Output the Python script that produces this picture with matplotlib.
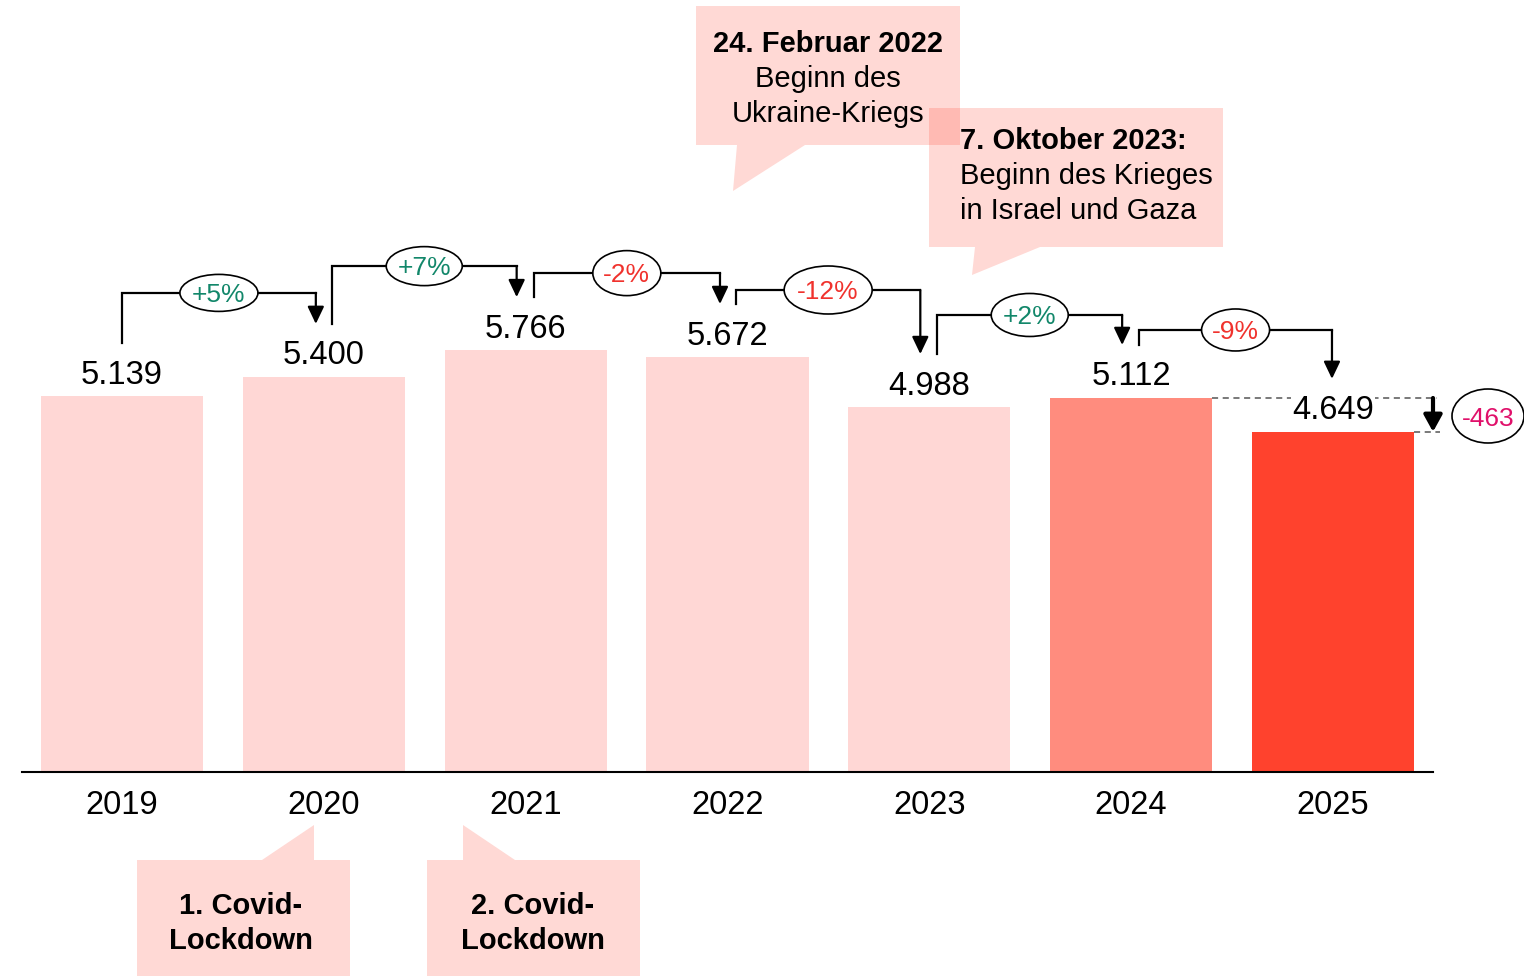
import numpy as np
import matplotlib.pyplot as plt
from matplotlib.patches import Ellipse, Polygon

plt.rcParams['font.family'] = ['Liberation Sans', 'DejaVu Sans']

years = ['2019', '2020', '2021', '2022', '2023', '2024', '2025']
values = [5139, 5400, 5766, 5672, 4988, 5112, 4649]
value_labels = ['5.139', '5.400', '5.766', '5.672', '4.988', '5.112', '4.649']
pct_labels = ['+5%', '+7%', '-2%', '-12%', '+2%', '-9%']
diff_label = '-463'

bar_colors = ['#FFD7D5'] * 5 + ['#FF8C7E', '#FF422D']
green = '#12876A'
red = '#F0322D'
magenta = '#E0106A'
callout = '#FF422D'

W, H = 1524, 976
fig = plt.figure(figsize=(W / 100, H / 100), dpi=100)
ax = fig.add_axes([0, 0, 1, 1])
ax.axis('off')

# pixel geometry -> data
x0, dx = 122, 201.83
base, k = 772, 376 / 5139
ax.set_xlim(-x0 / dx, (W - x0) / dx)
ax.set_ylim(-(H - base) / k, base / k)
tshift = 3  # text vertical nudge (px)


def px(xp):
    return (xp - x0) / dx


def py(yp):
    return (base - yp) / k


def tpy(yp):
    return py(yp + tshift)


def tox(p):
    return p / dx


def toy(p):
    return p / k


xs = np.arange(len(years))
ax.bar(xs, values, width=0.803, color=bar_colors, zorder=1)
ax.plot([px(22), px(1433)], [0, 0], color='black', lw=1.5, zorder=2)

vfs = 23.5
for x, yr in zip(xs, years):
    ax.text(x, tpy(803), yr, ha='center', va='center', fontsize=vfs)

for i, (x, v, lab) in enumerate(zip(xs, values, value_labels)):
    bb = dict(facecolor='white', edgecolor='none', pad=1) if i == 6 else None
    ax.text(x, v + toy(24 - tshift), lab, ha='center', va='center', fontsize=vfs,
            bbox=bb, zorder=4)

# change brackets
start_dx = [0, 8, 8, 8.5, 8, 8]
end_dx = [-8, -9, -7.5, -9, -9, -1]
level_off = [31, 31, 24, 14, 30, 15]
ell_w = [78, 76, 68, 88, 77, 68]
ell_h = [37, 39, 45, 48, 43, 42]
for i, lab in enumerate(pct_labels):
    a, b = values[i] + toy(53), values[i + 1] + toy(53)
    lvl = max(a, b) + toy(level_off[i])
    xa = i + tox(start_dx[i])
    xb = i + 1 + tox(end_dx[i])
    ax.plot([xa, xa, xb], [a, lvl, lvl], color='black', lw=1.6, zorder=3,
            solid_joinstyle='miter')
    ax.annotate('', xy=(xb, b), xytext=(xb, lvl),
                arrowprops=dict(arrowstyle='-|>,head_width=0.5,head_length=1.05',
                                lw=1.6, color='black', shrinkA=0, shrinkB=0),
                zorder=3)
    cx = (xa + xb) / 2
    ax.add_patch(Ellipse((cx, lvl), tox(ell_w[i]), toy(ell_h[i]),
                         facecolor='white', edgecolor='black', lw=1.2, zorder=4))
    ax.text(cx, lvl - toy(tshift - 1), lab, ha='center', va='center', fontsize=19,
            color=green if lab.startswith('+') else red, zorder=5)

# difference 2024 -> 2025
right = 5 + 0.4015
ax.plot([right, px(1437)], [values[5], values[5]], color='#555555', lw=1.1,
        dashes=(4, 3), zorder=2)
ax.plot([6 + 0.4015, px(1440)], [values[6], values[6]], color='#555555', lw=1.1,
        dashes=(4, 3), zorder=2)
ax.annotate('', xy=(px(1433), values[6]), xytext=(px(1433), values[5]),
            arrowprops=dict(arrowstyle='-|>,head_width=0.55,head_length=1.0',
                            lw=3, color='black', shrinkA=0, shrinkB=0),
            zorder=3)
ax.add_patch(Ellipse((px(1488), py(416)), tox(72), toy(54),
                     facecolor='white', edgecolor='black', lw=1.2, zorder=4))
ax.text(px(1488), tpy(416), diff_label, ha='center', va='center', fontsize=19,
        color=magenta, zorder=5)

# callouts
shapes = [
    [(696, 6), (960, 6), (960, 145), (805, 145), (733, 191), (737, 145), (696, 145)],
    [(929, 108), (1223, 108), (1223, 247), (1040, 247), (972, 275), (975, 247), (929, 247)],
    [(137, 860), (262, 860), (314, 825), (314, 860), (350, 860), (350, 990), (137, 990)],
    [(427, 860), (463, 860), (463, 825), (515, 860), (640, 860), (640, 990), (427, 990)],
]
for s in shapes:
    ax.add_patch(Polygon([(px(a), py(b)) for a, b in s], closed=True,
                         facecolor=callout, alpha=0.2, edgecolor='none', zorder=0))

fs = 21
ax.text(px(828), tpy(41), '24. Februar 2022', ha='center', va='center',
        fontsize=fs, fontweight='bold')
ax.text(px(828), tpy(76), 'Beginn des', ha='center', va='center', fontsize=fs)
ax.text(px(828), tpy(111), 'Ukraine-Kriegs', ha='center', va='center', fontsize=fs)

ax.text(px(960), tpy(138), '7. Oktober 2023:', ha='left', va='center',
        fontsize=fs, fontweight='bold')
ax.text(px(960), tpy(173), 'Beginn des Krieges', ha='left', va='center', fontsize=fs)
ax.text(px(960), tpy(208), 'in Israel und Gaza', ha='left', va='center', fontsize=fs)

for cx, num in [(241, '1'), (533, '2')]:
    ax.text(px(cx), tpy(903), num + '. Covid-', ha='center', va='center',
            fontsize=fs, fontweight='bold')
    ax.text(px(cx), tpy(938), 'Lockdown', ha='center', va='center',
            fontsize=fs, fontweight='bold')

fig.savefig('out.png', dpi=100)
